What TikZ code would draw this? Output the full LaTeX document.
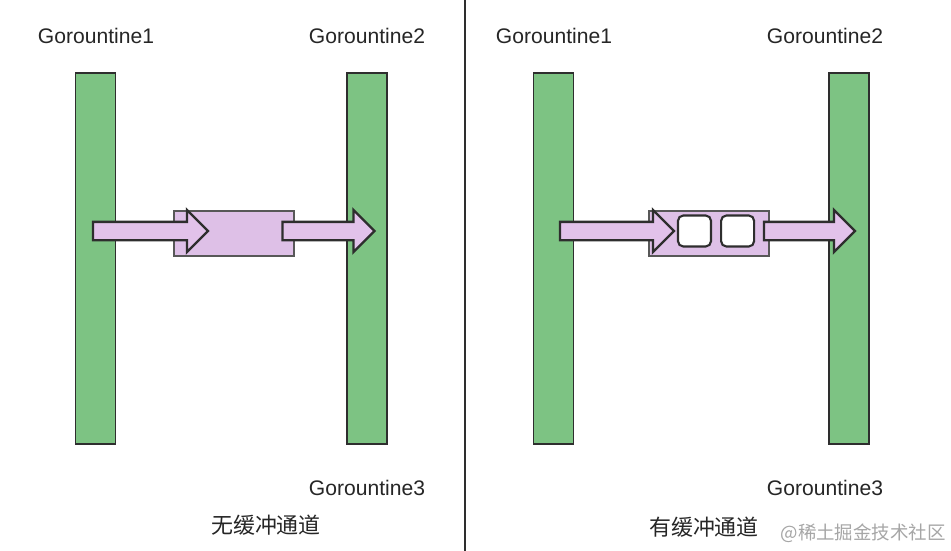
\documentclass[tikz,border=0pt]{standalone}
\usepackage{fontspec}
\setmainfont{Liberation Sans}
\newfontfamily\cjk{Noto Sans CJK SC}
\usetikzlibrary{positioning, shapes.arrows}
\definecolor{barGreen}{HTML}{7DC383}
\definecolor{chanPurple}{HTML}{DEC0E7}
\definecolor{arrowPurple}{HTML}{E2C2EA}
\definecolor{edgeDark}{HTML}{2E2E2E}

\begin{document}
\begin{tikzpicture}[x=0.02cm, y=-0.02cm,
    bar/.style={draw=edgeDark, line width=1.1pt, fill=barGreen, minimum width=0.8cm, minimum height=7.42cm, inner sep=0},
    chan/.style={draw=edgeDark!80, line width=0.6pt, fill=chanPurple, minimum width=2.4cm, minimum height=0.9cm, inner sep=0},
    slot/.style={draw=edgeDark, line width=1.2pt, fill=white, rounded corners=3pt, minimum width=0.66cm, minimum height=0.62cm, inner sep=0},
    fat/.style={single arrow, draw=edgeDark, line width=1.3pt, fill=arrowPurple, inner xsep=0, inner ysep=0.16cm, minimum width=0, single arrow head extend=0.24cm, single arrow head indent=0},
    label/.style={font=\fontsize{12}{14}\selectfont, text=black!85, inner sep=0},
    title/.style={font=\cjk\fontsize{12.5}{15}\selectfont, text=black!85, inner sep=0}]
  \useasboundingbox[fill=white] (0,0) rectangle (951,551);

  % divider
  \coordinate (top) at (465,0);
  \coordinate (bottom) at (465,551);
  \draw[line width=1.2pt, edgeDark] (top) -- (bottom);

  % left: unbuffered
  \node[bar] (bar_1) at (95.5,258.5) {};
  \node[bar] (bar_2) at (367,258.5) {};
  \node[label] (g_1) at (96,36) {Gorountine1};
  \node[label] (g_2) at (367,36) {Gorountine2};
  \node[label] (g_3) at (367,488) {Gorountine3};
  \node[chan] (chan_1) at (234,233.5) {};
  \node[fat, minimum height=2.3cm] (in_1) at (146,231) {};
  \node[fat, minimum height=1.84cm] (out_1) at (324,231) {};
  \node[title] (t_1) at (266,525) {无缓冲通道};

  % right: buffered
  \node[bar] (bar_3) at (553.5,258.5) {};
  \node[bar] (bar_4) at (849,258.5) {};
  \node[label] (g_4) at (554,36) {Gorountine1};
  \node[label] (g_5) at (825,36) {Gorountine2};
  \node[label] (g_6) at (825,488) {Gorountine3};
  \node[chan] (chan_2) at (709,233.5) {};
  \node[fat, minimum height=2.28cm] (in_2) at (612.5,231) {};
  \node[slot] (s_1) at (694.5,231) {};
  \node[slot] (s_2) [right=0.16cm of s_1] {};
  \node[fat, minimum height=1.82cm] (out_2) at (805,231) {};
  \node[title] (t_2) at (704,527) {有缓冲通道};
  \node[font=\cjk\fontsize{10.5}{13}\selectfont, text=black!35, inner sep=0, anchor=east] (mark) at (946,533) {@稀土掘金技术社区};
\end{tikzpicture}
\end{document}
